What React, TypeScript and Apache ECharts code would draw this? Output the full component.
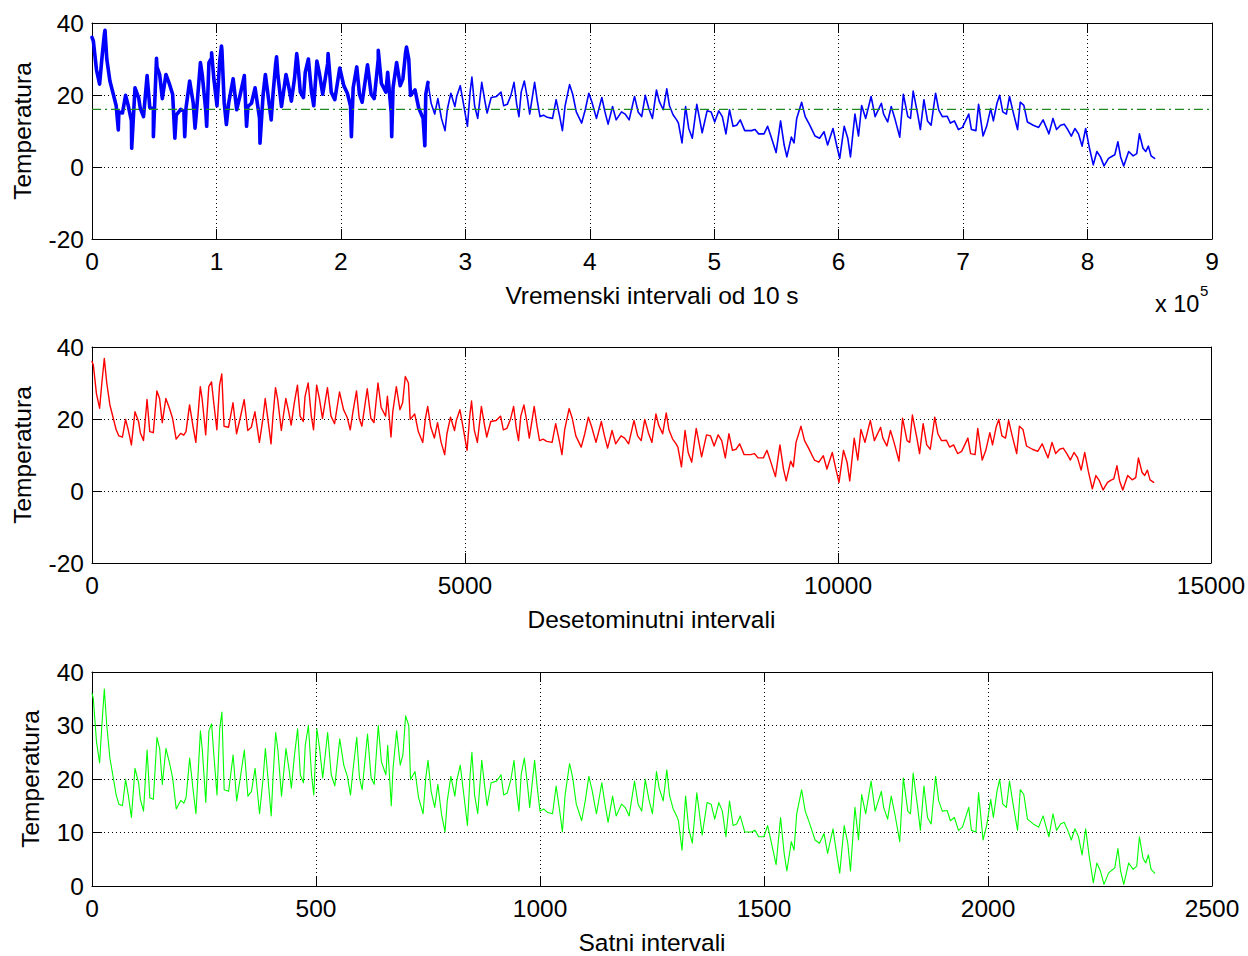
import React, { useEffect, useRef } from "react";
import * as echarts from "echarts";

// Hourly temperature readings (hour index, °C)
const hours = [
  0, 3, 10, 17, 22, 27.5, 33, 40, 48, 54, 60, 68, 75, 81, 88, 96, 104, 108, 115, 123,
  129, 137, 145, 151, 157, 165, 173, 180, 188, 198, 205, 210, 218, 226, 232, 242, 246, 254, 261, 267,
  272, 279, 285, 290, 295, 305, 315, 323, 331, 340, 348, 356, 364, 374, 382, 387, 393, 400, 404, 410,
  415, 423, 433, 440, 445, 452, 459, 465, 472, 476, 483, 490, 495, 502, 508, 515, 526, 534, 542, 553,
  562, 570, 577, 583, 591, 597, 603, 615, 623, 630, 639, 646, 656, 660, 668, 672, 680, 688, 694, 700,
  707, 711, 721, 729, 739, 745, 750, 757, 765, 772, 780, 788, 793, 801, 810, 814, 822, 830, 838, 844,
  848, 854, 861, 870, 877, 882, 891, 903, 913, 919, 927, 935, 942, 948, 953, 958, 965, 972, 977, 988,
  994, 1000, 1008, 1016, 1028, 1036, 1044, 1050, 1056, 1066, 1073, 1081, 1093, 1101, 1109, 1116, 1126, 1138, 1145, 1152,
  1162, 1170, 1182, 1190, 1199, 1211, 1219, 1227, 1235, 1243, 1251, 1260, 1266, 1275, 1283, 1289, 1297, 1305, 1309, 1317,
  1325, 1332, 1340, 1350, 1356, 1362, 1373, 1382, 1390, 1399, 1407, 1415, 1423, 1431, 1439, 1447, 1457, 1472, 1480, 1488,
  1500, 1508, 1516, 1527, 1537, 1545, 1551, 1561, 1567, 1573, 1584, 1592, 1601, 1614, 1624, 1634, 1642, 1654, 1662, 1669,
  1679, 1687, 1693, 1703, 1711, 1718, 1727, 1739, 1748, 1762, 1767, 1776, 1784, 1792, 1803, 1811, 1821, 1827, 1833, 1843,
  1849, 1857, 1865, 1873, 1883, 1890, 1898, 1909, 1916, 1925, 1934, 1943, 1957, 1963, 1973, 1979, 1989, 1997, 2006, 2012,
  2020, 2026, 2033, 2041, 2048, 2056, 2066, 2072, 2080, 2088, 2101, 2113, 2123, 2130, 2136, 2145, 2153, 2162, 2170, 2178,
  2186, 2194, 2202, 2210, 2218, 2226, 2235, 2243, 2251, 2259, 2269, 2277, 2283, 2290, 2296, 2303, 2314, 2324, 2332, 2338,
  2346, 2352, 2358, 2364, 2372
];
const temps = [
  36, 35, 27, 23, 30, 36.8, 30, 23.9, 20, 17, 15.3, 15, 19.9, 17, 12.8, 22, 19.3, 16.2, 14, 25.4,
  16.5, 16.2, 27.8, 25.7, 19, 25.7, 23, 20.2, 14.4, 16, 15.5, 16.5, 23.9, 17.7, 13.5, 29, 25.7, 15.6, 29, 30.3,
  24.5, 17, 29.4, 32.5, 18, 17.7, 24.5, 15.9, 20.2, 25.4, 16.8, 17.7, 22, 13.5, 20.2, 25.7, 19.9, 13.1, 20.2, 28.7,
  25.4, 16.8, 25.7, 21.7, 18.3, 24.5, 29.4, 20.8, 19.3, 26.3, 30, 20.8, 17, 29.4, 25.7, 20.2, 28.7, 20.8, 18.7, 27.5,
  22.6, 20.5, 17, 22, 27.8, 20.2, 18, 28.4, 20.2, 19, 30, 23.2, 20.8, 26.3, 15, 22, 29, 22.6, 24.5, 31.8,
  30, 19.9, 21.4, 16.5, 13.5, 20.2, 23.5, 17.7, 14.7, 19, 13.5, 10.1, 15.9, 20.5, 16.8, 19.6, 22.6, 17, 11.3, 20.8,
  25, 17, 13.5, 23.5, 18.3, 15, 19.3, 19.6, 20.8, 17, 17.4, 19.9, 23.5, 17.4, 14, 20.8, 23.9, 19, 14.7, 23.5,
  18.3, 14, 14.4, 13.8, 13.5, 18.7, 14, 10.1, 17, 22.9, 20.2, 15.3, 12.2, 15.9, 20.5, 18, 13.5, 19.3, 15.3, 11.9,
  16.8, 13.1, 15.3, 14.7, 13.1, 19.6, 15.3, 14, 19.9, 16.2, 13.5, 21.4, 18.3, 15.9, 21.7, 17, 14.5, 13.1, 12.2, 6.7,
  16.8, 10.7, 8, 17.4, 13.5, 9.5, 15.6, 15.3, 12.5, 15.6, 14, 9.2, 15.9, 11.3, 11.6, 13.1, 10.1, 10.1, 10.4, 9.2,
  9.2, 11.3, 8.3, 4, 12.8, 6.1, 2.8, 8.3, 6.7, 13.5, 18, 14, 11.9, 8.6, 8, 9.8, 6.1, 10.7, 6.1, 2.4,
  11.3, 8, 2.8, 14.7, 8.6, 17.1, 13.5, 19.6, 14, 17.7, 14.7, 12.5, 16.8, 13.5, 8.3, 20.2, 14, 13.5, 21.1, 14.7,
  10.4, 18.7, 12.8, 11.6, 20.5, 15.9, 14, 14.1, 12.2, 12.8, 10.4, 11, 14.7, 10.4, 10.1, 17.4, 8.6, 11.3, 16.2, 12.8,
  17.7, 19.9, 15.3, 14.7, 19.6, 15.3, 10.4, 18, 17.1, 12.5, 11.6, 11, 13.1, 11, 9.2, 13.5, 10.4, 11.6, 11.9, 10.4,
  8.6, 10.7, 9.2, 5.8, 10.7, 5.5, 0.6, 4.3, 2.8, 0.3, 2.4, 3, 3.4, 7, 2.8, 0.3, 4.3, 3.1, 3.7, 9.2,
  5.2, 4.3, 5.8, 3.1, 2.4
];
// Extra extremes of the noisy 10-second record (hour, °C)
const spikeHours = [29, 58.7, 88.6, 137, 144, 185, 207, 230, 256, 267, 289, 300, 345, 375, 412, 457, 527, 579, 639, 669, 702, 743];
const spikeTemps = [38, 10.3, 5.2, 8.4, 30.2, 8, 8.4, 10.8, 11.3, 31.7, 33.6, 11.8, 11.3, 6.6, 30.6, 31.5, 31.5, 8.4, 32.4, 8.4, 33.3, 5.9];
const meanTemp = 16;
const noisyUntilHour = 750;
const tenSecPerHour = 360;
const tenMinPerHour = 6;

const titles = ["Vremenski intervali od 10 s", "Desetominutni intervali", "Satni intervali"];
const yLabel = "Temperatura";

const FONT = "'Liberation Sans', Arial, Helvetica, sans-serif";
const FS = 24.5;

export default function App() {
  const ref = useRef<HTMLDivElement>(null);
  useEffect(() => {
    const chart = echarts.init(ref.current!, null, { renderer: "svg" });

    const noisyPts: number[][] = [];
    const blueRest: number[][] = [];
    const red: number[][] = [];
    const green: number[][] = [];
    hours.forEach((h, i) => {
      const t = temps[i];
      if (h <= noisyUntilHour) noisyPts.push([h, t]);
      if (h >= noisyUntilHour) blueRest.push([h * tenSecPerHour, t]);
      red.push([h * tenMinPerHour, t]);
      green.push([h, t]);
    });
    spikeHours.forEach((h, i) => noisyPts.push([h, spikeTemps[i]]));
    noisyPts.sort((a, b) => a[0] - b[0]);
    const blueNoisy = noisyPts.map(([h, t]) => [h * tenSecPerHour, t]);

    const gridDefs = [
      { top: 23, height: 216 },
      { top: 347, height: 216 },
      { top: 672, height: 217 },
    ];
    const xDefs = [
      { min: 0, max: 900000, interval: 100000, fmt: (v: number) => String(v / 100000) },
      { min: 0, max: 15000, interval: 5000, fmt: (v: number) => String(v) },
      { min: 0, max: 2500, interval: 500, fmt: (v: number) => String(v) },
    ];
    const yDefs = [
      { min: -20, max: 40, interval: 20, gap: 57 },
      { min: -20, max: 40, interval: 20, gap: 57 },
      { min: 0, max: 40, interval: 10, gap: 49 },
    ];

    const axisLine = { show: true, onZero: false, lineStyle: { color: "#000", width: 1 } };
    const tick = { show: true, inside: true, length: 10, lineStyle: { color: "#000", width: 1 } };
    const split = { show: true, lineStyle: { color: "#000", width: 1, type: [1, 3] as any } };
    const labelStyle = { color: "#000", fontSize: FS, fontFamily: FONT };

    const xAxis: any[] = [];
    const yAxis: any[] = [];
    gridDefs.forEach((_, g) => {
      const xd = xDefs[g];
      xAxis.push({
        type: "value", gridIndex: g, position: "bottom", min: xd.min, max: xd.max, interval: xd.interval,
        axisLine, axisTick: tick, splitLine: split,
        axisLabel: { ...labelStyle, margin: 10, formatter: xd.fmt },
        name: titles[g], nameLocation: "middle", nameGap: 44,
        nameTextStyle: { ...labelStyle },
      });
      xAxis.push({
        type: "value", gridIndex: g, position: "top", min: xd.min, max: xd.max, interval: xd.interval,
        axisLine, axisTick: tick, splitLine: { show: false }, axisLabel: { show: false },
      });
      const yd = yDefs[g];
      yAxis.push({
        type: "value", gridIndex: g, position: "left", min: yd.min, max: yd.max, interval: yd.interval,
        axisLine, axisTick: tick, splitLine: split,
        axisLabel: { ...labelStyle, margin: 8 },
        name: yLabel, nameLocation: "middle", nameGap: yd.gap, nameRotate: 90,
        nameTextStyle: { ...labelStyle },
      });
      yAxis.push({
        type: "value", gridIndex: g, position: "right", min: yd.min, max: yd.max, interval: yd.interval,
        axisLine, axisTick: tick, splitLine: { show: false }, axisLabel: { show: false },
      });
    });

    const lineSeries = (data: number[][], xi: number, yi: number, color: string, width: number, type: any = "solid", z = 2) => ({
      type: "line", xAxisIndex: xi, yAxisIndex: yi, data, showSymbol: false, symbol: "none",
      lineStyle: { color, width, type, join: "round", cap: "round" }, itemStyle: { color }, clip: true, z, silent: true,
    });

    chart.setOption({
      animation: false,
      backgroundColor: "#fff",
      grid: gridDefs.map((d) => ({ left: 92, width: 1120, top: d.top, height: d.height, containLabel: false })),
      xAxis,
      yAxis,
      series: [
        lineSeries(blueNoisy, 0, 0, "#0000ff", 3.6),
        lineSeries(blueRest, 0, 0, "#0000ff", 1.6),
        { ...lineSeries([[0, meanTemp], [900000, meanTemp]], 0, 0, "#1f8a1f", 1.4, [9, 4, 2, 4], 3), lineStyle: { color: "#1f8a1f", width: 1.4, type: [9, 4, 2, 4] } },
        lineSeries(red, 2, 2, "#ff0000", 1.4),
        lineSeries(green, 4, 4, "#00ff00", 1.1),
      ],
      graphic: [
        { type: "text", x: 1155, y: 304, style: { text: "x 10", fontSize: FS - 1, fontFamily: FONT, fill: "#000", align: "left", verticalAlign: "middle" } },
        { type: "text", x: 1200, y: 290, style: { text: "5", fontSize: 15, fontFamily: FONT, fill: "#000", align: "left", verticalAlign: "middle" } },
      ],
    });
    return () => chart.dispose();
  }, []);
  return <div ref={ref} style={{ position: "fixed", left: 0, top: 0, width: 1248, height: 956, background: "#fff" }} />;
}
